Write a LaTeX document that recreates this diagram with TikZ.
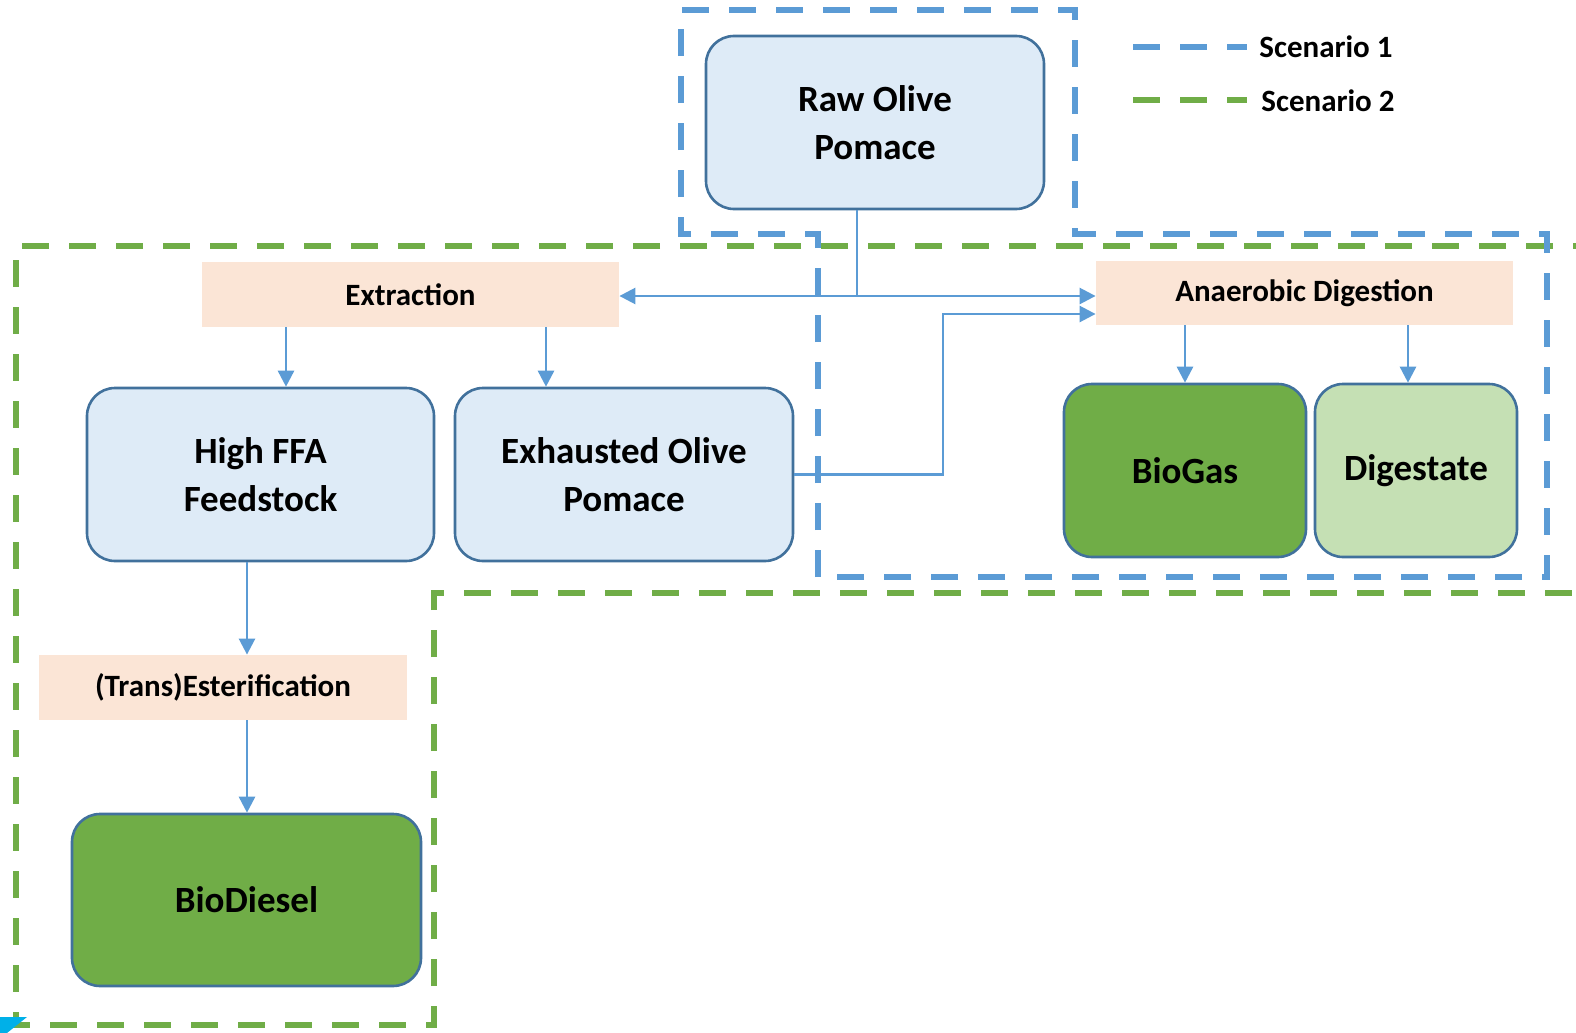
\documentclass[tikz,border=0pt]{standalone}
\usepackage{fontspec}
\setmainfont{Carlito}
\usetikzlibrary{arrows.meta}
\definecolor{lblue}{HTML}{DEEBF7}
\definecolor{bord}{HTML}{41719C}
\definecolor{peach}{HTML}{FBE5D6}
\definecolor{dgreen}{HTML}{70AD47}
\definecolor{lgreen}{HTML}{C5E0B4}
\definecolor{sblue}{HTML}{5B9BD5}
\definecolor{sgreen}{HTML}{70AD47}
\definecolor{cyanmark}{HTML}{00B0E8}
\begin{document}
\begin{tikzpicture}[x=0.5pt,y=-0.5pt,
 box/.style={draw=bord, line width=1.3pt, rounded corners=14pt, align=center,
   font=\fontsize{18.5}{24}\selectfont\bfseries, inner sep=0pt},
 proc/.style={fill=peach, align=center, font=\fontsize{15.5}{19}\selectfont\bfseries, inner sep=0pt},
 conn/.style={draw=sblue, line width=1.3pt, -{Triangle[length=8pt,width=8pt]}},
 plainline/.style={draw=sblue, line width=1.3pt},
 sc1/.style={draw=sblue, line width=3pt, dash pattern=on 13.5pt off 10pt},
 sc2/.style={draw=sgreen, line width=3pt, dash pattern=on 13.5pt off 10pt},
 legtext/.style={font=\fontsize{15.5}{19}\selectfont\bfseries, anchor=west, inner sep=0pt}]

\useasboundingbox (0,0) rectangle (1576,1033);
\clip (0,0) rectangle (1576,1033);

% boxes
\node[box, fill=lblue, minimum width=169pt, minimum height=86.5pt] (raw) at (875,122.5) {Raw Olive\\Pomace};
\node[proc, minimum width=208.5pt, minimum height=32.5pt] (ext) at (410.5,294.5) {Extraction};
\node[proc, minimum width=208.5pt, minimum height=32pt] (ad) at (1304.5,293) {Anaerobic Digestion};
\node[box, fill=lblue, minimum width=173.5pt, minimum height=86.5pt] (hff) at (260.5,474.5) {High FFA\\Feedstock};
\node[box, fill=lblue, minimum width=169pt, minimum height=86.5pt] (exh) at (624,474.5) {Exhausted Olive\\Pomace};
\node[box, fill=dgreen, minimum width=121pt, minimum height=86.5pt] (biogas) at (1185,470.5) {BioGas};
\node[box, fill=lgreen, minimum width=101pt, minimum height=86.5pt] (dig) at (1416,470.5) {Digestate};
\node[proc, minimum width=184pt, minimum height=32.5pt] (trans) at (223,687.5) {(Trans)Esterification};
\node[box, fill=dgreen, minimum width=174.5pt, minimum height=86pt] (bd) at (246.5,900) {BioDiesel};

% helper coordinates
\coordinate (j) at (857,296);
\coordinate (xa) at (286,0);
\coordinate (xb) at (546,0);
\coordinate (xc) at (1185,0);
\coordinate (xd) at (1408,0);
\coordinate (xe) at (247,0);
\coordinate (k) at (943,314);

% connectors
\draw[plainline] (raw.south -| j) -- (j);
\draw[conn] (j) -- (j -| ext.east);
\draw[conn] (j) -- (j -| ad.west);
\draw[conn] (ext.south -| xa) -- (hff.north -| xa);
\draw[conn] (ext.south -| xb) -- (exh.north -| xb);
\draw[conn] (exh.east) -| (k) -- (k -| ad.west);
\draw[conn] (ad.south -| xc) -- (biogas.north -| xc);
\draw[conn] (ad.south -| xd) -- (dig.north -| xd);
\draw[conn] (hff.south -| xe) -- (trans.north -| xe);
\draw[conn] (trans.south -| xe) -- (bd.north -| xe);

% scenario boundaries
\draw[sc2] (1600,246) -- (16,246) -- (16,1025) -- (434,1025) -- (434,593) -- (1600,593);
\draw[sc1] (818,577) -- (818,234) -- (681,234) -- (681,10) -- (1075,10) -- (1075,234) -- (1547,234) -- (1547,577) -- cycle;

% legend
\coordinate (l1a) at (1133,47);
\coordinate (l1b) at (1247,47);
\coordinate (l2a) at (1133,100);
\coordinate (l2b) at (1247,100);
\draw[sc1] (l1a) -- (l1b);
\draw[sc2] (l2a) -- (l2b);
\node[legtext] (s1) at (1259,47) {Scenario 1};
\node[legtext] (s2) at (1261,101) {Scenario 2};

% corner mark
\fill[cyanmark] (0,1017) -- (27,1017) -- (7,1033) -- (0,1033) -- cycle;
\end{tikzpicture}
\end{document}
